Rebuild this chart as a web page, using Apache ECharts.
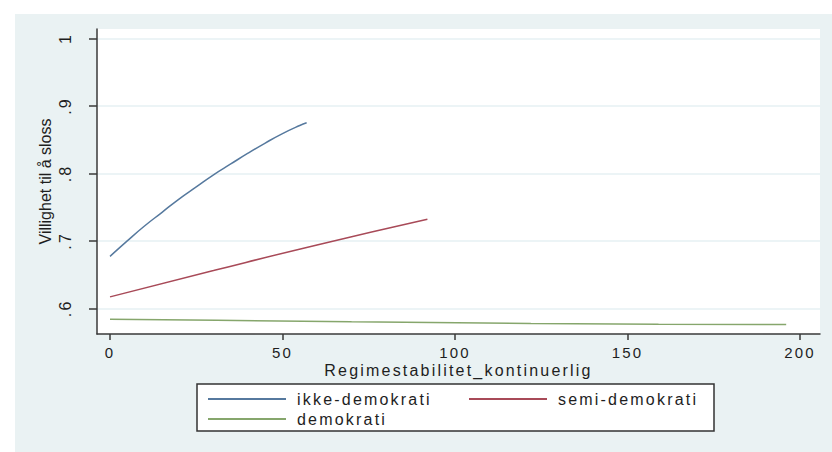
<!DOCTYPE html>
<html>
<head>
<meta charset="utf-8">
<script src="https://cdn.jsdelivr.net/npm/echarts@6/dist/echarts.min.js"></script>
<style>
html,body{margin:0;padding:0;background:#fff;}
#chart{width:832px;height:452px;}
#chart text{letter-spacing:2.2px;}
</style>
</head>
<body>
<div id="chart"></div>
<script>
// Data
const seriesNames = ['ikke-demokrati', 'semi-demokrati', 'demokrati'];
const ikkeX = [0, 5, 10, 15, 20, 25, 30, 35, 40, 45, 50, 55, 57];
const ikkeY = [0.677, 0.700, 0.722, 0.742, 0.762, 0.780, 0.798, 0.814, 0.830, 0.845, 0.859, 0.871, 0.875];
const semiX = [0, 30, 60, 92];
const semiY = [0.617, 0.656, 0.694, 0.732];
const demoX = [0, 31, 70, 122, 159, 196];
const demoY = [0.5837, 0.5824, 0.5800, 0.5777, 0.5765, 0.5762];
const xTicks = [0, 50, 100, 150, 200];
const yTicks = [0.6, 0.7, 0.8, 0.9, 1];

const zip = (xs, ys) => xs.map((x, i) => [x, ys[i]]);
const fmtY = v => (Math.abs(v - 1) < 1e-9 ? '1' : v.toFixed(1).replace(/^0/, ''));

const FONT = 'Liberation Sans, Arial, sans-serif';
const TXT = '#1e1e1e';
const AXIS = '#3a3a3a';

const chart = echarts.init(document.getElementById('chart'), null, {renderer: 'svg'});
chart.setOption({
  animation: false,
  backgroundColor: 'transparent',
  textStyle: {fontFamily: FONT},
  graphic: [{
    type: 'rect', z: -100, silent: true,
    shape: {x: 15, y: 14, width: 817, height: 438},
    style: {fill: '#eaf2f3'}
  }],
  grid: {
    left: 97, top: 29, right: 12, bottom: 118,
    show: true, backgroundColor: '#ffffff', borderWidth: 0,
    containLabel: false
  },
  xAxis: {
    type: 'value', min: -3.77, max: 205.8,
    name: 'Regimestabilitet_kontinuerlig', nameLocation: 'middle', nameGap: 29,
    nameMoveOverlap: false,
    nameTextStyle: {fontSize: 16, lineHeight: 14, color: TXT, fontFamily: FONT},
    axisLine: {show: true, onZero: false, lineStyle: {color: AXIS, width: 1.5}},
    axisTick: {show: true, length: 6, customValues: xTicks, lineStyle: {color: AXIS, width: 1.5}},
    axisLabel: {customValues: xTicks, fontSize: 15, lineHeight: 14, color: TXT, margin: 11, fontFamily: FONT},
    splitLine: {show: false}
  },
  yAxis: {
    type: 'value', min: 0.562, max: 1.014,
    name: 'Villighet til å sloss', nameLocation: 'middle', nameGap: 44, nameRotate: 90,
    nameMoveOverlap: false,
    nameTextStyle: {fontSize: 16, color: TXT, fontFamily: FONT},
    axisLine: {show: true, onZero: false, lineStyle: {color: AXIS, width: 1.5}},
    axisTick: {show: true, length: 8, customValues: yTicks, lineStyle: {color: AXIS, width: 1.5}},
    axisLabel: {customValues: yTicks, rotate: 90, fontSize: 16, color: TXT, margin: 24,
      formatter: fmtY, fontFamily: FONT},
    splitLine: {show: true, lineStyle: {color: '#e6f0f3', width: 1.5}}
  },
  legend: {
    left: 197, top: 384, width: 530,
    orient: 'horizontal',
    padding: [7, 14, 4, 10],
    itemGap: 4, itemWidth: 78, itemHeight: 10,
    backgroundColor: '#ffffff', borderColor: '#333333', borderWidth: 1.5, borderRadius: 0,
    selectedMode: false,
    itemStyle: {opacity: 0},
    textStyle: {fontSize: 16, color: TXT, lineHeight: 10, width: 167, padding: [0, 0, 0, 6], fontFamily: FONT},
    data: [
      {name: seriesNames[0]},
      {name: seriesNames[1], textStyle: {width: 142}},
      {name: seriesNames[2]}
    ]
  },
  series: [
    {name: seriesNames[0], type: 'line', symbol: 'none', data: zip(ikkeX, ikkeY), smooth: true,
      color: '#56799e', lineStyle: {color: '#56799e', width: 1.5}},
    {name: seriesNames[1], type: 'line', symbol: 'none', data: zip(semiX, semiY), smooth: true,
      color: '#a84a58', lineStyle: {color: '#a84a58', width: 1.5}},
    {name: seriesNames[2], type: 'line', symbol: 'none', data: zip(demoX, demoY),
      color: '#86a66c', lineStyle: {color: '#86a66c', width: 1.5}}
  ]
});
// the rotated y-axis title is condensed in the reference: no extra spacing there
document.querySelectorAll('#chart text').forEach(t => {
  if (t.textContent === 'Villighet til å sloss') t.style.letterSpacing = '0px';
});
</script>
</body>
</html>
